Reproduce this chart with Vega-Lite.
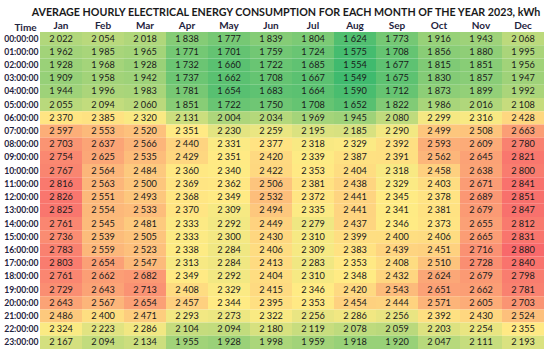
{
  "$schema": "https://vega.github.io/schema/vega-lite/v6.json",
  "width": 504,
  "height": 317,
  "autosize": "none",
  "padding": {"left": 40, "top": 32, "right": 6, "bottom": 4},
  "background": "white",
  "config": {
    "view": {"stroke": null},
    "locale": {"number": {"decimal": ",", "thousands": "\u00a0", "grouping": [3], "currency": ["", ""]}},
    "font": "Lato"
  },
  "title": {
    "text": "AVERAGE HOURLY ELECTRICAL ENERGY CONSUMPTION FOR EACH MONTH OF THE YEAR 2023, kWh",
    "font": "Lato",
    "fontSize": 10.7,
    "fontWeight": "bold",
    "color": "#1a1a1a",
    "anchor": "middle",
    "offset": 1,
    "dx": -6
  },
  "data": {"values": [
{"t":"00:00:00","m":"Jan","v":2022},{"t":"00:00:00","m":"Feb","v":2054},{"t":"00:00:00","m":"Mar","v":2018},{"t":"00:00:00","m":"Apr","v":1838},{"t":"00:00:00","m":"May","v":1777},{"t":"00:00:00","m":"Jun","v":1839},{"t":"00:00:00","m":"Jul","v":1804},{"t":"00:00:00","m":"Aug","v":1624},{"t":"00:00:00","m":"Sep","v":1773},{"t":"00:00:00","m":"Oct","v":1916},{"t":"00:00:00","m":"Nov","v":1943},{"t":"00:00:00","m":"Dec","v":2068},
{"t":"01:00:00","m":"Jan","v":1962},{"t":"01:00:00","m":"Feb","v":1985},{"t":"01:00:00","m":"Mar","v":1965},{"t":"01:00:00","m":"Apr","v":1771},{"t":"01:00:00","m":"May","v":1701},{"t":"01:00:00","m":"Jun","v":1759},{"t":"01:00:00","m":"Jul","v":1724},{"t":"01:00:00","m":"Aug","v":1575},{"t":"01:00:00","m":"Sep","v":1708},{"t":"01:00:00","m":"Oct","v":1856},{"t":"01:00:00","m":"Nov","v":1880},{"t":"01:00:00","m":"Dec","v":1995},
{"t":"02:00:00","m":"Jan","v":1928},{"t":"02:00:00","m":"Feb","v":1968},{"t":"02:00:00","m":"Mar","v":1928},{"t":"02:00:00","m":"Apr","v":1732},{"t":"02:00:00","m":"May","v":1660},{"t":"02:00:00","m":"Jun","v":1722},{"t":"02:00:00","m":"Jul","v":1685},{"t":"02:00:00","m":"Aug","v":1554},{"t":"02:00:00","m":"Sep","v":1677},{"t":"02:00:00","m":"Oct","v":1815},{"t":"02:00:00","m":"Nov","v":1851},{"t":"02:00:00","m":"Dec","v":1956},
{"t":"03:00:00","m":"Jan","v":1909},{"t":"03:00:00","m":"Feb","v":1958},{"t":"03:00:00","m":"Mar","v":1942},{"t":"03:00:00","m":"Apr","v":1737},{"t":"03:00:00","m":"May","v":1662},{"t":"03:00:00","m":"Jun","v":1708},{"t":"03:00:00","m":"Jul","v":1667},{"t":"03:00:00","m":"Aug","v":1549},{"t":"03:00:00","m":"Sep","v":1675},{"t":"03:00:00","m":"Oct","v":1830},{"t":"03:00:00","m":"Nov","v":1857},{"t":"03:00:00","m":"Dec","v":1947},
{"t":"04:00:00","m":"Jan","v":1944},{"t":"04:00:00","m":"Feb","v":1996},{"t":"04:00:00","m":"Mar","v":1983},{"t":"04:00:00","m":"Apr","v":1781},{"t":"04:00:00","m":"May","v":1654},{"t":"04:00:00","m":"Jun","v":1683},{"t":"04:00:00","m":"Jul","v":1664},{"t":"04:00:00","m":"Aug","v":1590},{"t":"04:00:00","m":"Sep","v":1712},{"t":"04:00:00","m":"Oct","v":1873},{"t":"04:00:00","m":"Nov","v":1899},{"t":"04:00:00","m":"Dec","v":1992},
{"t":"05:00:00","m":"Jan","v":2055},{"t":"05:00:00","m":"Feb","v":2094},{"t":"05:00:00","m":"Mar","v":2060},{"t":"05:00:00","m":"Apr","v":1851},{"t":"05:00:00","m":"May","v":1722},{"t":"05:00:00","m":"Jun","v":1750},{"t":"05:00:00","m":"Jul","v":1708},{"t":"05:00:00","m":"Aug","v":1652},{"t":"05:00:00","m":"Sep","v":1822},{"t":"05:00:00","m":"Oct","v":1986},{"t":"05:00:00","m":"Nov","v":2016},{"t":"05:00:00","m":"Dec","v":2108},
{"t":"06:00:00","m":"Jan","v":2370},{"t":"06:00:00","m":"Feb","v":2385},{"t":"06:00:00","m":"Mar","v":2320},{"t":"06:00:00","m":"Apr","v":2131},{"t":"06:00:00","m":"May","v":2004},{"t":"06:00:00","m":"Jun","v":2034},{"t":"06:00:00","m":"Jul","v":1969},{"t":"06:00:00","m":"Aug","v":1945},{"t":"06:00:00","m":"Sep","v":2080},{"t":"06:00:00","m":"Oct","v":2299},{"t":"06:00:00","m":"Nov","v":2316},{"t":"06:00:00","m":"Dec","v":2428},
{"t":"07:00:00","m":"Jan","v":2597},{"t":"07:00:00","m":"Feb","v":2553},{"t":"07:00:00","m":"Mar","v":2520},{"t":"07:00:00","m":"Apr","v":2351},{"t":"07:00:00","m":"May","v":2230},{"t":"07:00:00","m":"Jun","v":2259},{"t":"07:00:00","m":"Jul","v":2195},{"t":"07:00:00","m":"Aug","v":2185},{"t":"07:00:00","m":"Sep","v":2290},{"t":"07:00:00","m":"Oct","v":2499},{"t":"07:00:00","m":"Nov","v":2508},{"t":"07:00:00","m":"Dec","v":2663},
{"t":"08:00:00","m":"Jan","v":2703},{"t":"08:00:00","m":"Feb","v":2637},{"t":"08:00:00","m":"Mar","v":2566},{"t":"08:00:00","m":"Apr","v":2440},{"t":"08:00:00","m":"May","v":2331},{"t":"08:00:00","m":"Jun","v":2377},{"t":"08:00:00","m":"Jul","v":2318},{"t":"08:00:00","m":"Aug","v":2329},{"t":"08:00:00","m":"Sep","v":2392},{"t":"08:00:00","m":"Oct","v":2593},{"t":"08:00:00","m":"Nov","v":2609},{"t":"08:00:00","m":"Dec","v":2780},
{"t":"09:00:00","m":"Jan","v":2754},{"t":"09:00:00","m":"Feb","v":2625},{"t":"09:00:00","m":"Mar","v":2535},{"t":"09:00:00","m":"Apr","v":2429},{"t":"09:00:00","m":"May","v":2351},{"t":"09:00:00","m":"Jun","v":2420},{"t":"09:00:00","m":"Jul","v":2339},{"t":"09:00:00","m":"Aug","v":2387},{"t":"09:00:00","m":"Sep","v":2391},{"t":"09:00:00","m":"Oct","v":2562},{"t":"09:00:00","m":"Nov","v":2645},{"t":"09:00:00","m":"Dec","v":2821},
{"t":"10:00:00","m":"Jan","v":2767},{"t":"10:00:00","m":"Feb","v":2564},{"t":"10:00:00","m":"Mar","v":2484},{"t":"10:00:00","m":"Apr","v":2360},{"t":"10:00:00","m":"May","v":2340},{"t":"10:00:00","m":"Jun","v":2422},{"t":"10:00:00","m":"Jul","v":2353},{"t":"10:00:00","m":"Aug","v":2404},{"t":"10:00:00","m":"Sep","v":2318},{"t":"10:00:00","m":"Oct","v":2458},{"t":"10:00:00","m":"Nov","v":2638},{"t":"10:00:00","m":"Dec","v":2800},
{"t":"11:00:00","m":"Jan","v":2816},{"t":"11:00:00","m":"Feb","v":2563},{"t":"11:00:00","m":"Mar","v":2500},{"t":"11:00:00","m":"Apr","v":2369},{"t":"11:00:00","m":"May","v":2362},{"t":"11:00:00","m":"Jun","v":2506},{"t":"11:00:00","m":"Jul","v":2381},{"t":"11:00:00","m":"Aug","v":2438},{"t":"11:00:00","m":"Sep","v":2329},{"t":"11:00:00","m":"Oct","v":2403},{"t":"11:00:00","m":"Nov","v":2671},{"t":"11:00:00","m":"Dec","v":2841},
{"t":"12:00:00","m":"Jan","v":2826},{"t":"12:00:00","m":"Feb","v":2551},{"t":"12:00:00","m":"Mar","v":2493},{"t":"12:00:00","m":"Apr","v":2368},{"t":"12:00:00","m":"May","v":2349},{"t":"12:00:00","m":"Jun","v":2532},{"t":"12:00:00","m":"Jul","v":2372},{"t":"12:00:00","m":"Aug","v":2441},{"t":"12:00:00","m":"Sep","v":2345},{"t":"12:00:00","m":"Oct","v":2378},{"t":"12:00:00","m":"Nov","v":2689},{"t":"12:00:00","m":"Dec","v":2851},
{"t":"13:00:00","m":"Jan","v":2825},{"t":"13:00:00","m":"Feb","v":2554},{"t":"13:00:00","m":"Mar","v":2533},{"t":"13:00:00","m":"Apr","v":2370},{"t":"13:00:00","m":"May","v":2309},{"t":"13:00:00","m":"Jun","v":2494},{"t":"13:00:00","m":"Jul","v":2335},{"t":"13:00:00","m":"Aug","v":2441},{"t":"13:00:00","m":"Sep","v":2341},{"t":"13:00:00","m":"Oct","v":2381},{"t":"13:00:00","m":"Nov","v":2679},{"t":"13:00:00","m":"Dec","v":2847},
{"t":"14:00:00","m":"Jan","v":2761},{"t":"14:00:00","m":"Feb","v":2545},{"t":"14:00:00","m":"Mar","v":2481},{"t":"14:00:00","m":"Apr","v":2333},{"t":"14:00:00","m":"May","v":2292},{"t":"14:00:00","m":"Jun","v":2449},{"t":"14:00:00","m":"Jul","v":2279},{"t":"14:00:00","m":"Aug","v":2437},{"t":"14:00:00","m":"Sep","v":2346},{"t":"14:00:00","m":"Oct","v":2373},{"t":"14:00:00","m":"Nov","v":2655},{"t":"14:00:00","m":"Dec","v":2812},
{"t":"15:00:00","m":"Jan","v":2736},{"t":"15:00:00","m":"Feb","v":2539},{"t":"15:00:00","m":"Mar","v":2505},{"t":"15:00:00","m":"Apr","v":2333},{"t":"15:00:00","m":"May","v":2300},{"t":"15:00:00","m":"Jun","v":2430},{"t":"15:00:00","m":"Jul","v":2310},{"t":"15:00:00","m":"Aug","v":2399},{"t":"15:00:00","m":"Sep","v":2400},{"t":"15:00:00","m":"Oct","v":2406},{"t":"15:00:00","m":"Nov","v":2665},{"t":"15:00:00","m":"Dec","v":2831},
{"t":"16:00:00","m":"Jan","v":2783},{"t":"16:00:00","m":"Feb","v":2559},{"t":"16:00:00","m":"Mar","v":2523},{"t":"16:00:00","m":"Apr","v":2338},{"t":"16:00:00","m":"May","v":2284},{"t":"16:00:00","m":"Jun","v":2406},{"t":"16:00:00","m":"Jul","v":2309},{"t":"16:00:00","m":"Aug","v":2383},{"t":"16:00:00","m":"Sep","v":2439},{"t":"16:00:00","m":"Oct","v":2451},{"t":"16:00:00","m":"Nov","v":2716},{"t":"16:00:00","m":"Dec","v":2880},
{"t":"17:00:00","m":"Jan","v":2803},{"t":"17:00:00","m":"Feb","v":2654},{"t":"17:00:00","m":"Mar","v":2547},{"t":"17:00:00","m":"Apr","v":2313},{"t":"17:00:00","m":"May","v":2284},{"t":"17:00:00","m":"Jun","v":2413},{"t":"17:00:00","m":"Jul","v":2283},{"t":"17:00:00","m":"Aug","v":2353},{"t":"17:00:00","m":"Sep","v":2408},{"t":"17:00:00","m":"Oct","v":2510},{"t":"17:00:00","m":"Nov","v":2728},{"t":"17:00:00","m":"Dec","v":2840},
{"t":"18:00:00","m":"Jan","v":2761},{"t":"18:00:00","m":"Feb","v":2662},{"t":"18:00:00","m":"Mar","v":2682},{"t":"18:00:00","m":"Apr","v":2349},{"t":"18:00:00","m":"May","v":2292},{"t":"18:00:00","m":"Jun","v":2404},{"t":"18:00:00","m":"Jul","v":2310},{"t":"18:00:00","m":"Aug","v":2348},{"t":"18:00:00","m":"Sep","v":2432},{"t":"18:00:00","m":"Oct","v":2624},{"t":"18:00:00","m":"Nov","v":2679},{"t":"18:00:00","m":"Dec","v":2798},
{"t":"19:00:00","m":"Jan","v":2729},{"t":"19:00:00","m":"Feb","v":2643},{"t":"19:00:00","m":"Mar","v":2713},{"t":"19:00:00","m":"Apr","v":2408},{"t":"19:00:00","m":"May","v":2329},{"t":"19:00:00","m":"Jun","v":2415},{"t":"19:00:00","m":"Jul","v":2346},{"t":"19:00:00","m":"Aug","v":2420},{"t":"19:00:00","m":"Sep","v":2543},{"t":"19:00:00","m":"Oct","v":2651},{"t":"19:00:00","m":"Nov","v":2662},{"t":"19:00:00","m":"Dec","v":2781},
{"t":"20:00:00","m":"Jan","v":2643},{"t":"20:00:00","m":"Feb","v":2567},{"t":"20:00:00","m":"Mar","v":2654},{"t":"20:00:00","m":"Apr","v":2457},{"t":"20:00:00","m":"May","v":2344},{"t":"20:00:00","m":"Jun","v":2395},{"t":"20:00:00","m":"Jul","v":2353},{"t":"20:00:00","m":"Aug","v":2454},{"t":"20:00:00","m":"Sep","v":2444},{"t":"20:00:00","m":"Oct","v":2571},{"t":"20:00:00","m":"Nov","v":2605},{"t":"20:00:00","m":"Dec","v":2703},
{"t":"21:00:00","m":"Jan","v":2486},{"t":"21:00:00","m":"Feb","v":2400},{"t":"21:00:00","m":"Mar","v":2471},{"t":"21:00:00","m":"Apr","v":2293},{"t":"21:00:00","m":"May","v":2273},{"t":"21:00:00","m":"Jun","v":2322},{"t":"21:00:00","m":"Jul","v":2256},{"t":"21:00:00","m":"Aug","v":2286},{"t":"21:00:00","m":"Sep","v":2256},{"t":"21:00:00","m":"Oct","v":2392},{"t":"21:00:00","m":"Nov","v":2430},{"t":"21:00:00","m":"Dec","v":2524},
{"t":"22:00:00","m":"Jan","v":2324},{"t":"22:00:00","m":"Feb","v":2223},{"t":"22:00:00","m":"Mar","v":2286},{"t":"22:00:00","m":"Apr","v":2104},{"t":"22:00:00","m":"May","v":2094},{"t":"22:00:00","m":"Jun","v":2180},{"t":"22:00:00","m":"Jul","v":2119},{"t":"22:00:00","m":"Aug","v":2078},{"t":"22:00:00","m":"Sep","v":2059},{"t":"22:00:00","m":"Oct","v":2203},{"t":"22:00:00","m":"Nov","v":2254},{"t":"22:00:00","m":"Dec","v":2355},
{"t":"23:00:00","m":"Jan","v":2167},{"t":"23:00:00","m":"Feb","v":2094},{"t":"23:00:00","m":"Mar","v":2134},{"t":"23:00:00","m":"Apr","v":1955},{"t":"23:00:00","m":"May","v":1928},{"t":"23:00:00","m":"Jun","v":1998},{"t":"23:00:00","m":"Jul","v":1959},{"t":"23:00:00","m":"Aug","v":1918},{"t":"23:00:00","m":"Sep","v":1920},{"t":"23:00:00","m":"Oct","v":2047},{"t":"23:00:00","m":"Nov","v":2111},{"t":"23:00:00","m":"Dec","v":2193}
  ]},
  "encoding": {
    "x": {
      "field": "m", "type": "nominal",
      "sort": ["Jan","Feb","Mar","Apr","May","Jun","Jul","Aug","Sep","Oct","Nov","Dec"],
      "scale": {"paddingInner": 0, "paddingOuter": 0},
      "axis": {"orient": "top", "title": null, "labelAngle": 0, "ticks": false, "domain": false, "labelPadding": 2, "labelFont": "Lato", "labelFontSize": 10, "labelFontWeight": "bold", "labelColor": "#1F2440"}
    },
    "y": {
      "field": "t", "type": "nominal",
      "scale": {"paddingInner": 0, "paddingOuter": 0},
      "axis": {"title": "Time", "titleAngle": 0, "titleX": -15, "titleY": -2, "titleAlign": "center", "titleBaseline": "alphabetic", "titleFont": "Lato", "titleFontSize": 10, "titleFontWeight": "bold", "titleColor": "#1F2440", "ticks": false, "domain": false, "labelPadding": 2, "labelFont": "Lato", "labelFontSize": 8.6, "labelFontWeight": "bold", "labelColor": "#1F2440"}
    }
  },
  "layer": [
    {
      "mark": {"type": "rect"},
      "encoding": {
        "color": {"field": "v", "type": "quantitative", "legend": null,
          "scale": {"type": "linear", "domain": [1549, 2346, 2880], "range": ["#3FBA6E", "#FFEB84", "#F8696B"], "interpolate": "rgb"}}
      }
    },
    {
      "mark": {"type": "text", "font": "Lato", "fontSize": 9.2, "color": "#1a1a1a"},
      "encoding": {
        "text": {"field": "v", "type": "quantitative", "format": ",d"}
      }
    }
  ]
}
